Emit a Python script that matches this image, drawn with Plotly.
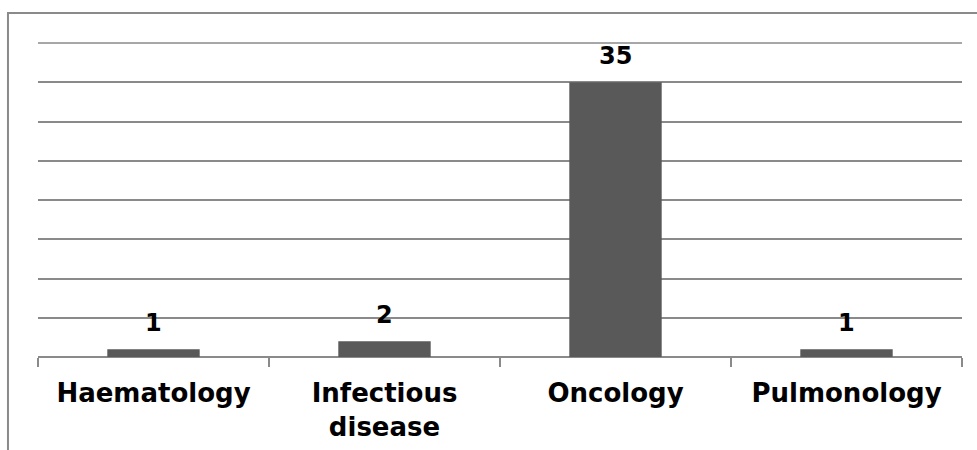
import plotly.graph_objects as go

categories = ["Haematology", "Infectious disease", "Oncology", "Pulmonology"]
values = [1, 2, 35, 1]
y_max = 40
y_step = 5

tick_text = [c.replace(" ", "<br>") for c in categories]

fig = go.Figure()
fig.add_trace(go.Bar(
    x=categories,
    y=values,
    width=0.4,
    marker=dict(color="#595959", line=dict(width=0)),
    hoverinfo="skip",
))

for c, v in zip(categories, values):
    fig.add_annotation(
        x=c, y=v, xref="x", yref="y",
        text=str(v), showarrow=False,
        yanchor="bottom", yshift=10,
        font=dict(family="DejaVu Sans", size=24, color="#000000", weight="bold"),
    )

# top gridline at the axis maximum (top edge of the plot area, y = y_max)
fig.add_shape(
    type="line", xref="paper", yref="paper",
    x0=0, x1=1, y0=1, y1=1,
    line=dict(color="#8a8a8a", width=1.5),
    layer="below",
)

# outer frame
fig.add_shape(
    type="rect", xref="paper", yref="paper",
    x0=-0.0325, x1=1.03, y0=-0.35, y1=1.0955,
    line=dict(color="#8a8a8a", width=2), fillcolor="rgba(0,0,0,0)",
    layer="below",
)

fig.update_layout(
    width=977, height=450,
    margin=dict(l=38, r=15, t=43, b=93, autoexpand=False),
    paper_bgcolor="#ffffff",
    plot_bgcolor="#ffffff",
    showlegend=False,
    bargap=0.6,
    font=dict(family="DejaVu Sans", color="#000000"),
    xaxis=dict(
        type="category",
        tickvals=categories,
        ticktext=tick_text,
        tickson="boundaries",
        ticks="outside",
        ticklen=9,
        tickwidth=1.5,
        tickcolor="#8a8a8a",
        showline=False,
        showgrid=False,
        automargin=False,
        ticklabelstandoff=18,
        tickfont=dict(family="DejaVu Sans", size=26, color="#000000", weight="bold"),
        fixedrange=True,
    ),
    yaxis=dict(
        range=[0, y_max],
        tick0=0,
        dtick=y_step,
        showticklabels=False,
        showgrid=True,
        gridcolor="#8a8a8a",
        gridwidth=1.5,
        zeroline=True,
        zerolinecolor="#8a8a8a",
        zerolinewidth=1.5,
        showline=False,
        ticks="",
        automargin=False,
        fixedrange=True,
    ),
)

fig.write_html(
    "out.html",
    config={"displayModeBar": False},
    post_script="document.body.style.margin='0';",
)
